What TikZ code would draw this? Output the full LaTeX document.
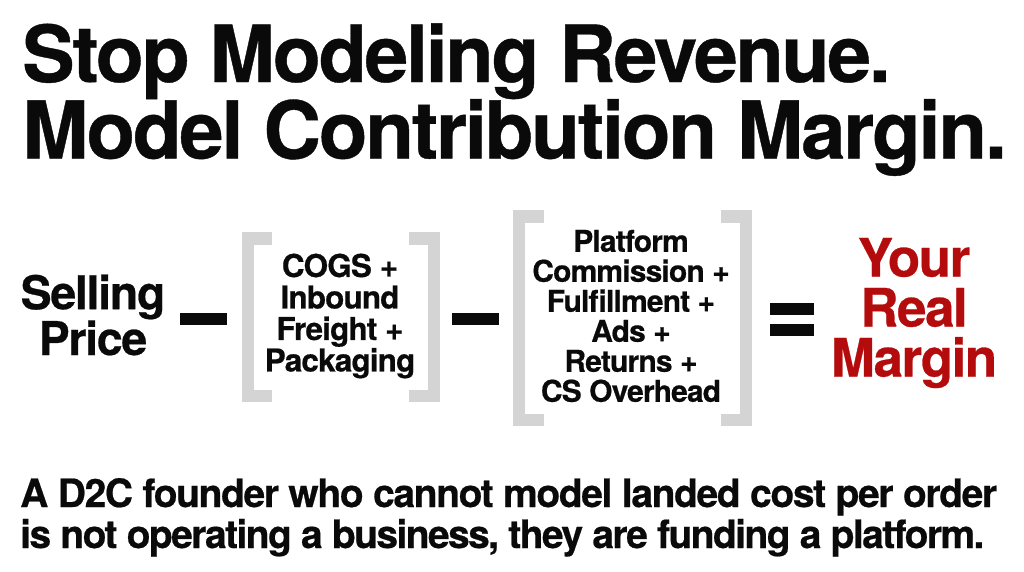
\documentclass[tikz,border=0pt]{standalone}
\usepackage{fontspec}
\setmainfont{TeX Gyre Heros}[BoldFeatures={LetterSpace=-2.8,FakeBold=0.5}]
\newfontfamily\subone{TeX Gyre Heros}[BoldFeatures={LetterSpace=-3.55,FakeBold=0.5}]
\newfontfamily\subtwo{TeX Gyre Heros}[BoldFeatures={LetterSpace=-4.1,FakeBold=0.5}]
\definecolor{brk}{HTML}{D4D4D4}
\definecolor{ink}{HTML}{0A0A0A}
\definecolor{mred}{HTML}{B40C0C}
\tikzset{
 title/.style={anchor=base west,inner sep=0,text=ink},
 eq/.style={align=center,inner sep=0,font=\bfseries\fontsize{30}{30}\selectfont,text=ink},
 eqa/.style={align=center,inner sep=0,font=\bfseries\fontsize{31.5}{31.5}\selectfont,text=ink},
 lhs/.style={align=center,inner sep=0,font=\bfseries\fontsize{46.5}{43}\selectfont,text=ink},
 big/.style={align=center,inner sep=0,font=\bfseries\fontsize{53}{50}\selectfont,text=mred},
 sub/.style={anchor=base west,inner sep=0,text=ink},
 brack/.style={draw=brk,line width=12.5pt,line cap=butt,line join=miter},
 op/.style={fill=ink,draw=none}
}
\begin{document}
\begin{tikzpicture}[x=1pt,y=-1pt]
\useasboundingbox (0,0) rectangle (1024,571);
\node[title,font=\bfseries\fontsize{78.7}{73}\selectfont] (t1) at (22,82) {Stop Modeling Revenue.};
\node[title,font=\bfseries\fontsize{79.7}{73}\selectfont] (t2) at (22,158.5) {Model Contribution Margin.};
\node[lhs] (sp) at (93,315) {Selling\\Price};
\node[eqa] (a) at (340,316) {COGS +\\Inbound\\Freight +\\Packaging};
\node[eq] (b) at (631,316) {Platform\\Commission +\\Fulfillment +\\Ads +\\Returns +\\CS Overhead};
\node[big] (r) at (914,313) {Your\\Real\\Margin};
\draw[op,brack,fill=none] (272,238.25)--(248,238.25)--(248,395.75)--(272,395.75);
\draw[brack] (409,238.25)--(433.75,238.25)--(433.75,395.75)--(409,395.75);
\draw[brack] (544,216.25)--(519,216.25)--(519,419.75)--(544,419.75);
\draw[brack] (721,216.25)--(745.75,216.25)--(745.75,419.75)--(721,419.75);
\fill[ink] (180,313) rectangle (227,325);
\fill[ink] (452,313) rectangle (499,325);
\fill[ink] (770,303) rectangle (814,315);
\fill[ink] (770,324) rectangle (814,336);
\node[sub,font=\subone\bfseries\fontsize{39}{41}\selectfont] (s1) at (20,507) {A D2C founder who cannot model landed cost per order};
\node[sub,font=\subtwo\bfseries\fontsize{39}{41}\selectfont] (s2) at (20,548) {is not operating a business, they are funding a platform.};
\end{tikzpicture}
\end{document}
